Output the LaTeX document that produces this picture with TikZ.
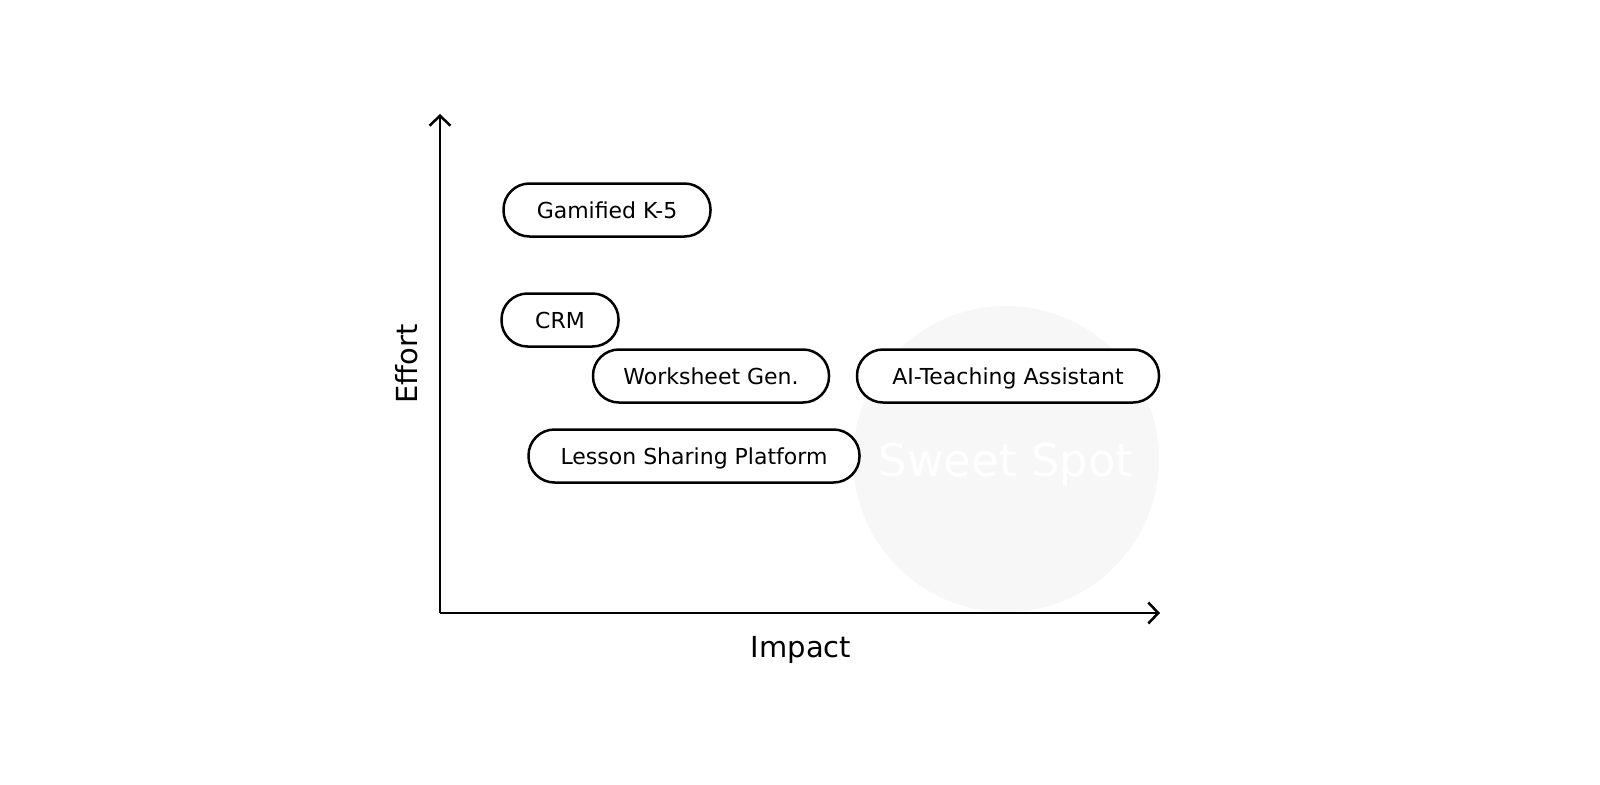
\documentclass[tikz,border=0pt]{standalone}
\usepackage{fontspec}
\setmainfont{DejaVu Sans}
\usepackage{tikz}
\usetikzlibrary{arrows.meta, positioning}

\begin{document}
\begin{tikzpicture}[x=1pt, y=-1pt, >={Straight Barb[length=10pt, width=21pt, line width=2.5pt]},
    idea/.style={draw, line width=2.5pt, rounded corners=26pt, fill=white, minimum height=53pt, inner xsep=14pt, text height=16pt, text depth=0pt, font=\fontsize{22}{26}\selectfont},
    axislabel/.style={font=\fontsize{29}{34}\selectfont}]
    \useasboundingbox (0,0) rectangle (1600,784);

    % Sweet spot
    \fill[black!3] (1006,459) circle (153);
    \node[text=white, text height=33pt, text depth=0pt, font=\fontsize{45}{50}\selectfont] (sweet) at (1006,460) {Sweet Spot};

    % Axes
    \coordinate (origin) at (440,613);
    \coordinate (ytip) at (440,114);
    \coordinate (xtip) at (1160,613);
    \draw[->, line width=2.5pt] (origin) -- (ytip);
    \draw[->, line width=2.5pt] (origin) -- (xtip);
    \node[axislabel, rotate=90] (effort) at (407,364) {Effort};
    \node[axislabel] (impact) at (801,650) {Impact};

    % Ideas
    \node[idea, minimum width=207pt] (gamified) at (607,210) {Gamified K-5};
    \node[idea, minimum width=117pt] (crm) at (560,320) {CRM};
    \node[idea, minimum width=236pt] (worksheet) at (711,376) {Worksheet Gen.};
    \node[idea, minimum width=302pt] (assistant) at (1008,376) {AI-Teaching Assistant};
    \node[idea, minimum width=331pt] (lesson) at (694,456) {Lesson Sharing Platform};

\end{tikzpicture}
\end{document}
